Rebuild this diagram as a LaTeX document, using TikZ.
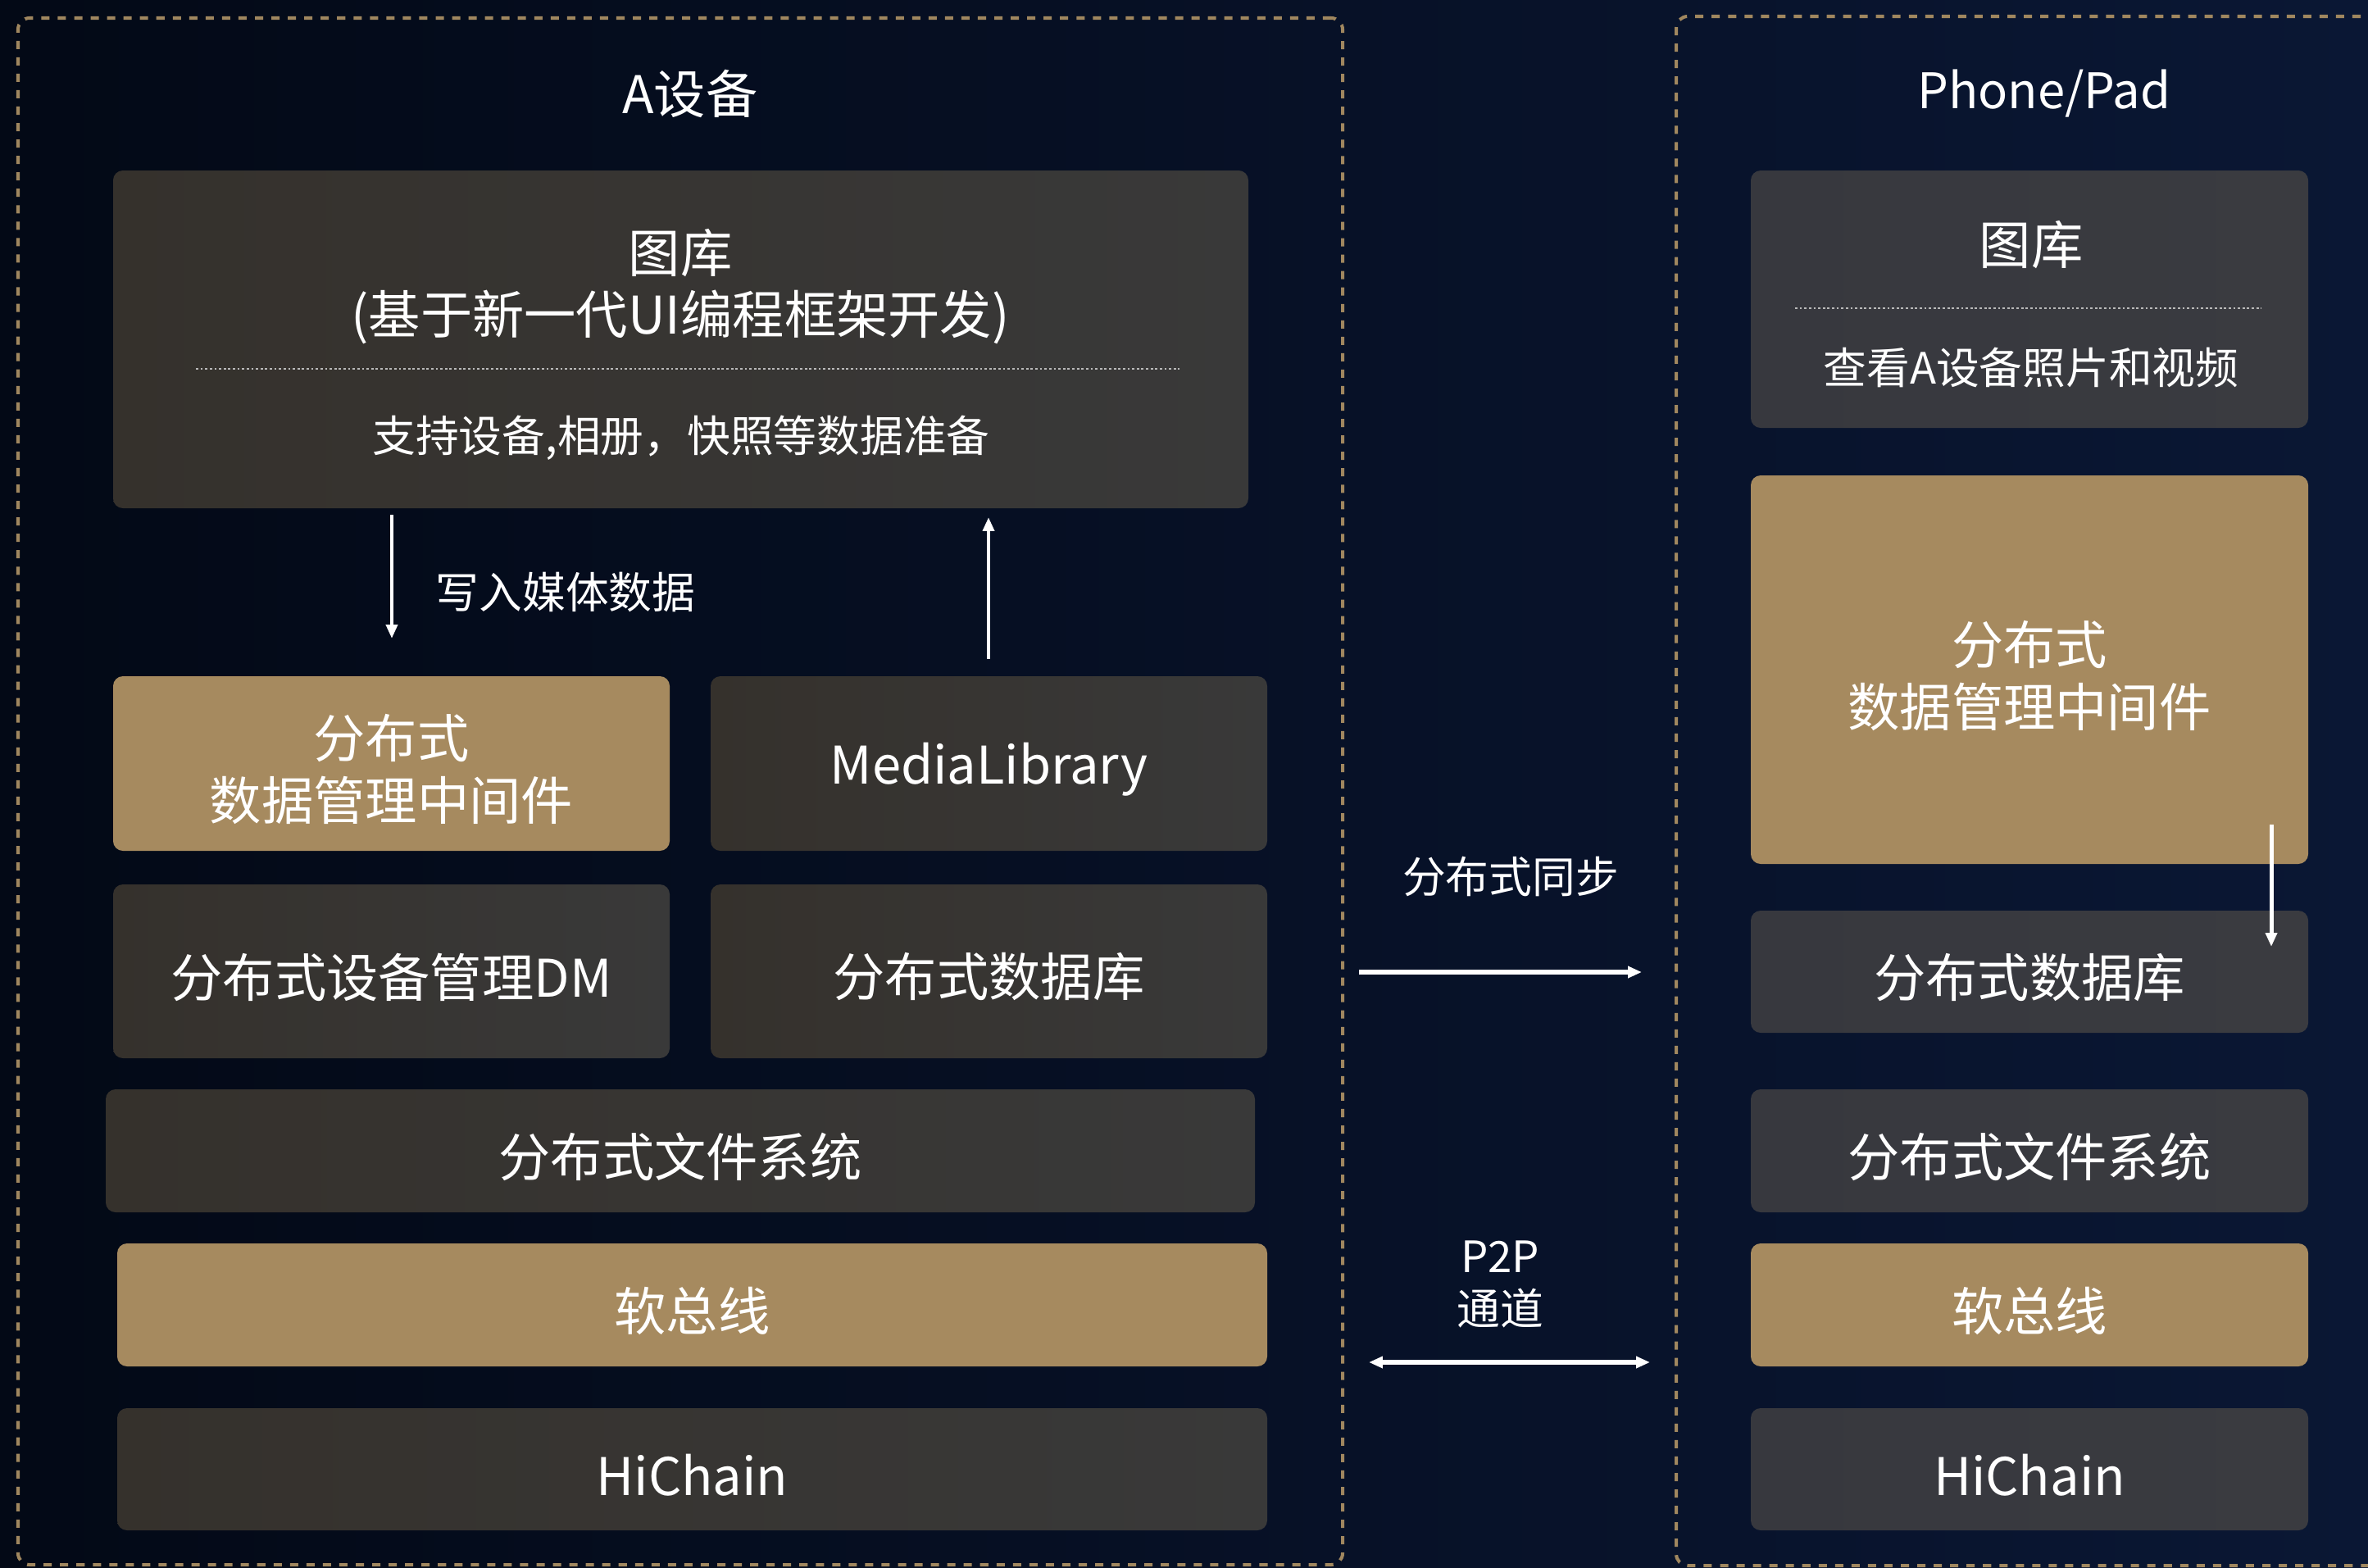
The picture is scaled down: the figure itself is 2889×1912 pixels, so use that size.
\documentclass[tikz,border=0pt]{standalone}
\usepackage{fontspec}
\setmainfont{Noto Sans CJK SC}
\usetikzlibrary{arrows.meta,fit}
\definecolor{gold}{RGB}{166,138,95}
\definecolor{dashc}{RGB}{160,135,95}
\definecolor{boxL}{RGB}{53,49,44}
\definecolor{boxR}{RGB}{57,57,57}
\definecolor{boxB}{RGB}{55,56,62}
\definecolor{boxBr}{RGB}{58,59,64}
\definecolor{bgL}{RGB}{3,9,22}
\definecolor{bgR}{RGB}{10,23,52}
\definecolor{dotc}{RGB}{185,185,185}
\tikzset{
  base/.style={inner sep=0pt, rounded corners=3.4pt},
  lbox/.style={base, left color=boxL, right color=boxR},
  rbox/.style={base, left color=boxB, right color=boxBr},
  gbox/.style={base, fill=gold},
  big/.style={font=\fontsize{18}{22}\selectfont},
  twol/.style={font=\fontsize{18}{21.6}\selectfont},
  mid/.style={font=\fontsize{15}{18}\selectfont},
  txt/.style={text=white, inner sep=0pt, align=center},
  ltxt/.style={txt, yshift=-2pt},
  sepline/.style={draw=dotc, line width=0.6pt, dash pattern=on 0.8pt off 0.8pt},
  frame/.style={draw=dashc, line width=1.15pt, dash pattern=on 2.85pt off 2.85pt, rounded corners=4pt},
  arr/.style={draw=white, line width=1.4pt, -{Triangle[length=4.8pt,width=3.9pt]}},
  darr/.style={draw=white, line width=1.6pt, {Triangle[length=4.8pt,width=3.9pt]}-{Triangle[length=4.8pt,width=3.9pt]}}
}
\begin{document}
\begin{tikzpicture}[x=0.01cm,y=-0.01cm]
\useasboundingbox (0,0) rectangle (2889,1912);
\fill[left color=bgL, right color=bgR] (0,0) rectangle (2889,1912);
\begin{scope}
\clip (0,0) rectangle (2889,1912);
% frames
\node[frame, fit={(22,22)(1638,1909)}, inner sep=0pt] (frameA) {};
\draw[frame] (2900,20) -- (2045,20) -- (2045,1910) -- (2900,1910);
\end{scope}

% titles
\node[txt, big] (titleA) at (842,114) {A设备};
\node[txt, font=\fontsize{17}{20}\selectfont] (titleB) at (2494,114) {Phone/Pad};

% ---------- left device ----------
\node[lbox, fit={(138,208)(1523,620)}] (galA) {};
\node[txt, big] (galAt) at (830,309) {图库};
\node[txt, big] (galAs) at (830,387) {(基于新一代UI编程框架开发)};
\draw[sepline] (239,450) -- (1439,450);
\node[txt, mid] (galAd) at (831,534) {支持设备,相册，快照等数据准备};

\node[gbox, fit={(138,825)(817,1038)}, label={[ltxt,twol]center:分布式\\数据管理中间件}] (ddmA) {};
\node[lbox, fit={(867,825)(1546,1038)}, label={[ltxt,big]center:MediaLibrary}] (media) {};
\node[lbox, fit={(138,1079)(817,1291)}, label={[ltxt,big]center:分布式设备管理DM}] (dm) {};
\node[lbox, fit={(867,1079)(1546,1291)}, label={[ltxt,big]center:分布式数据库}] (dbA) {};
\node[lbox, fit={(129,1329)(1531,1479)}, label={[ltxt,big]center:分布式文件系统}] (fsA) {};
\node[gbox, fit={(143,1517)(1546,1667)}, label={[ltxt,big]center:软总线}] (busA) {};
\node[lbox, fit={(143,1718)(1546,1867)}, label={[ltxt,big]center:HiChain}] (hcA) {};

\coordinate (w1) at (478,628);
\coordinate (w2) at (478,779);
\draw[arr] (w1) -- (w2);
\node[txt, mid] (wlabel) at (690,722) {写入媒体数据};
\coordinate (u1) at (1206,804);
\coordinate (u2) at (1206,631);
\draw[arr] (u1) -- (u2);

% ---------- right device ----------
\node[rbox, fit={(2136,208)(2816,522)}] (galB) {};
\node[txt, big] (galBt) at (2478,299) {图库};
\draw[sepline] (2190,376) -- (2759,376);
\node[txt, mid] (galBd) at (2478,449) {查看A设备照片和视频};

\node[gbox, fit={(2136,580)(2816,1054)}, label={[ltxt,twol]center:分布式\\数据管理中间件}] (ddmB) {};
\node[rbox, fit={(2136,1111)(2816,1260)}, label={[ltxt,big]center:分布式数据库}] (dbB) {};
\node[rbox, fit={(2136,1329)(2816,1479)}, label={[ltxt,big]center:分布式文件系统}] (fsB) {};
\node[gbox, fit={(2136,1517)(2816,1667)}, label={[ltxt,big]center:软总线}] (busB) {};
\node[rbox, fit={(2136,1718)(2816,1867)}, label={[ltxt,big]center:HiChain}] (hcB) {};

\coordinate (r1) at (2771,1006);
\coordinate (r2) at (2771,1155);
\draw[arr] (r1) -- (r2);

% ---------- middle ----------
\node[txt, mid] (syncl) at (1843,1069) {分布式同步};
\coordinate (s1) at (1658,1186);
\coordinate (s2) at (2003,1186);
\draw[arr, line width=1.6pt] (s1) -- (s2);
\node[txt, font=\fontsize{15}{18.2}\selectfont] (p2pl) at (1830,1567) {P2P\\通道};
\coordinate (p1) at (1670,1662);
\coordinate (p2) at (2013,1662);
\draw[darr] (p1) -- (p2);
\end{tikzpicture}
\end{document}
